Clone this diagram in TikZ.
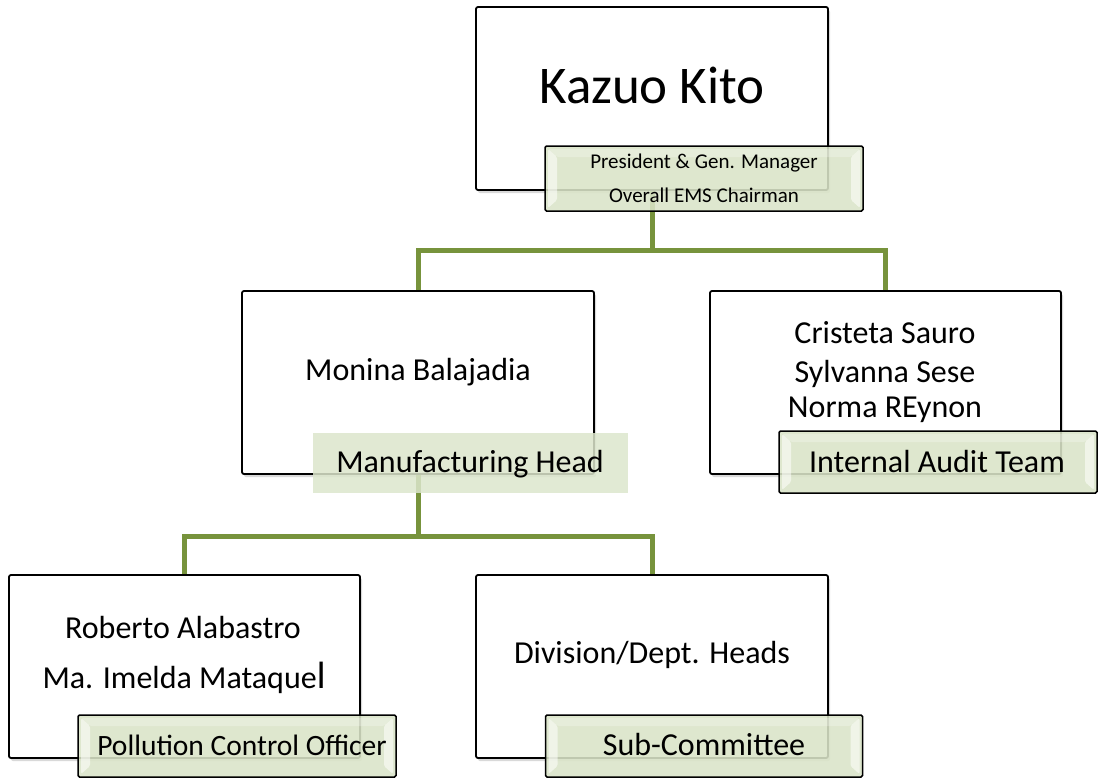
\documentclass[tikz,border=0pt]{standalone}
\usepackage{fontspec}
\setmainfont{Carlito}
\usetikzlibrary{shadows}
\definecolor{conn}{HTML}{77933C}
\definecolor{lgreen}{HTML}{DAE4C8}
\definecolor{pgreen}{HTML}{DCE6CC}
\begin{document}
\begin{tikzpicture}[x=1pt,y=-1pt,
  box/.style={draw=black, line width=1.8pt, rounded corners=2pt, fill=white,
    minimum width=352pt, minimum height=183pt, inner sep=0pt,
    drop shadow={shadow xshift=2pt,shadow yshift=-3pt,opacity=0.3}},
  bevel/.style={path picture={
    \fill[white,fill opacity=0.55]
      ([xshift=3pt,yshift=-3pt]path picture bounding box.north west) --
      ([xshift=12pt,yshift=-11pt]path picture bounding box.north west) --
      ([xshift=12pt,yshift=11pt]path picture bounding box.south west) --
      ([xshift=3pt,yshift=3pt]path picture bounding box.south west) -- cycle;
    \fill[white,fill opacity=0.55]
      ([xshift=-3pt,yshift=-3pt]path picture bounding box.north east) --
      ([xshift=-12pt,yshift=-11pt]path picture bounding box.north east) --
      ([xshift=-12pt,yshift=11pt]path picture bounding box.south east) --
      ([xshift=-3pt,yshift=3pt]path picture bounding box.south east) -- cycle;
    \fill[white,fill opacity=0.25]
      ([xshift=3pt,yshift=-3pt]path picture bounding box.north west) --
      ([xshift=12pt,yshift=-11pt]path picture bounding box.north west) --
      ([xshift=-12pt,yshift=-11pt]path picture bounding box.north east) --
      ([xshift=-3pt,yshift=-3pt]path picture bounding box.north east) -- cycle;
  }},
  lbl/.style={draw=black, line width=1.5pt, rounded corners=1.5pt, fill=lgreen,
    fill opacity=0.88, minimum width=317pt, minimum height=63pt, inner sep=0pt, bevel},
  plainlbl/.style={fill=pgreen, fill opacity=0.85, minimum width=315pt,
    minimum height=60pt, inner sep=0pt},
  txt/.style={anchor=base, inner sep=0pt, font=\fontsize{32}{38}\selectfont},
  small/.style={anchor=base, inner sep=0pt, font=\fontsize{21}{25}\selectfont},
  link/.style={draw=conn, line width=5pt}]
\useasboundingbox (0,0) rectangle (1103,779);

% junctions
\coordinate (j1) at (652,250);
\coordinate (j2) at (418,536);

% boxes
\node[box] (b0) at (652,98.5) {};
\node[box, minimum width=352pt] (b1) at (418,382.5) {};
\node[box, minimum width=351pt] (b2) at (885.5,382.5) {};
\node[box, minimum width=351pt] (b3) at (184.5,666.5) {};
\node[box] (b4) at (652,666.5) {};

% connectors
\draw[link] (b0.south) -- (j1);
\draw[link] (j1) -| (b1.north);
\draw[link] (j1) -| (b2.north);
\draw[link] (b1.south) -- (j2);
\draw[link] (j2) -| (b3.north);
\draw[link] (j2) -| (b4.north);

% labels
\node[lbl, minimum width=318pt, minimum height=65pt] (l0) at (704,178.5) {};
\node[plainlbl] (l1) at (470.5,463) {};
\node[lbl, minimum width=318pt, minimum height=62pt] (l2) at (938,462) {};
\node[lbl, minimum width=318pt, minimum height=62pt] (l3) at (237,746) {};
\node[lbl, minimum width=317pt, minimum height=62pt] (l4) at (704,746) {};

% texts
\node[anchor=base, inner sep=0pt, font=\fontsize{53}{60}\selectfont] (t0) at (652,103) {Kazuo Kito};
\node[small] (t0a) at (704,168) {President \& Gen. Manager};
\node[small] (t0b) at (704,202) {Overall EMS Chairman};

\node[txt] (t1) at (418,380) {Monina Balajadia};
\node[txt] (t1a) at (470,472) {Manufacturing Head};

\node[txt] (t2a) at (885,343) {Cristeta Sauro};
\node[txt] (t2b) at (885,382) {Sylvanna Sese};
\node[txt] (t2c) at (885,417) {Norma REynon};
\node[txt] (t2d) at (937,472) {Internal Audit Team};

\node[txt] (t3a) at (183,638) {Roberto Alabastro};
\node[txt] (t3b) at (184,688) {Ma. Imelda Mataque{\fontsize{38}{40}\selectfont l}};
\node[txt, font=\fontsize{29.5}{35}\selectfont] (t3c) at (242,755) {Pollution Control Officer};

\node[txt] (t4a) at (652,663) {Division/Dept. Heads};
\node[txt] (t4b) at (704,755) {Sub-Committee};
\end{tikzpicture}
\end{document}
